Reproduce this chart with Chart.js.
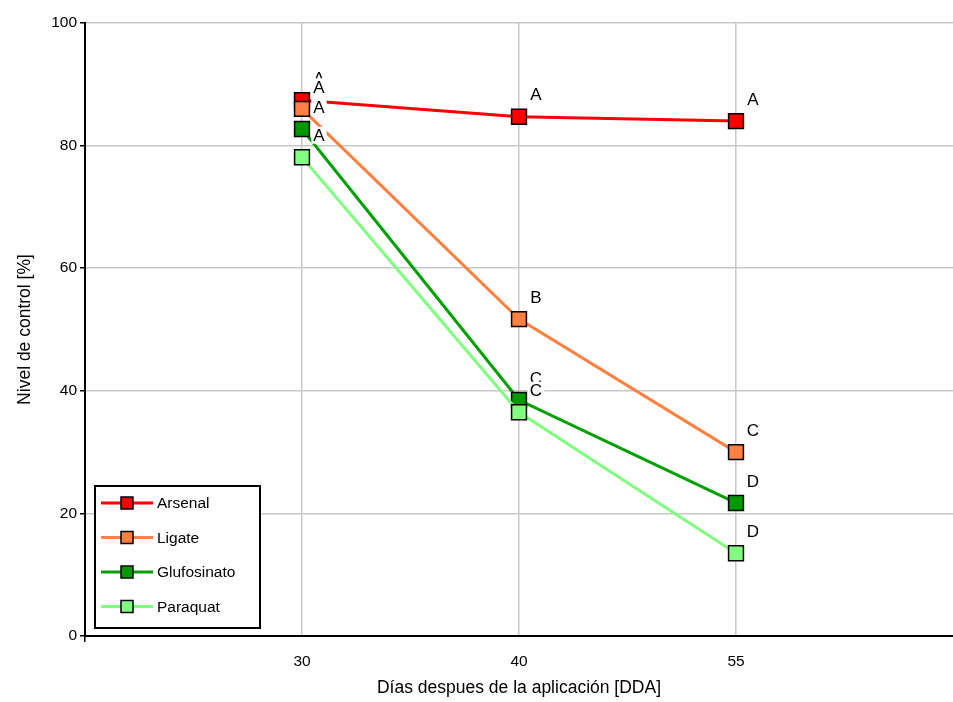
<!DOCTYPE html>
<html>
<head>
<meta charset="utf-8">
<script src="https://cdn.jsdelivr.net/npm/chart.js@4/dist/chart.umd.min.js"></script>
<style>
  body { margin: 0; background: #fff; }
  #wrap { width: 953px; height: 702px; }
</style>
</head>
<body>
<div id="wrap"><canvas id="controlChart" width="953" height="702"></canvas></div>
<script>
// Días después de la aplicación
const dias = ['30', '40', '55'];

// Nivel de control (%) por herbicida
const arsenal = [87.4, 84.7, 84.0];
const ligate = [86.0, 51.7, 30.0];
const glufosinato = [82.7, 38.5, 21.7];
const paraquat = [78.1, 36.5, 13.5];

// Letras de separación de medias
const letrasArsenal = ['A', 'A', 'A'];
const letrasLigate = ['A', 'B', 'C'];
const letrasGlufosinato = ['A', 'C', 'D'];
const letrasParaquat = ['A', 'C', 'D'];

const yTicks = [0, 20, 40, 60, 80, 100];

const FONT = "'Liberation Sans', Arial, sans-serif";

const series = [
    { label: 'Arsenal', data: arsenal, letras: letrasArsenal, line: '#ff0000', fill: '#ff0000' },
    { label: 'Ligate', data: ligate, letras: letrasLigate, line: '#ff8040', fill: '#ff8040' },
    { label: 'Glufosinato', data: glufosinato, letras: letrasGlufosinato, line: '#00a000', fill: '#009900' },
    { label: 'Paraquat', data: paraquat, letras: letrasParaquat, line: '#80ff80', fill: '#80ff80' }
];

// letras encima de cada punto, con fondo blanco
const letrasPlugin = {
    id: 'letras',
    afterDatasetsDraw(chart) {
        const ctx = chart.ctx;
        ctx.save();
        ctx.font = '17px ' + FONT;
        ctx.textAlign = 'center';
        ctx.textBaseline = 'middle';
        chart.data.datasets.forEach((ds, i) => {
            const meta = chart.getDatasetMeta(i);
            meta.data.forEach((pt, j) => {
                const x = pt.x + 17;
                const y = pt.y - 22;
                const txt = ds.letras[j];
                const w = ctx.measureText(txt).width + 4;
                ctx.fillStyle = '#fff';
                ctx.fillRect(x - w / 2, y - 8.5, w, 17);
                ctx.fillStyle = '#000';
                ctx.fillText(txt, x, y + 1);
            });
        });
        ctx.restore();
    }
};

// leyenda dentro del área del gráfico
const leyendaPlugin = {
    id: 'leyenda',
    afterDraw(chart) {
        const ctx = chart.ctx;
        const bx = 95, by = 486, bw = 165, bh = 142;
        ctx.save();
        ctx.fillStyle = '#fff';
        ctx.fillRect(bx, by, bw, bh);
        ctx.strokeStyle = '#000';
        ctx.lineWidth = 2;
        ctx.strokeRect(bx, by, bw, bh);
        ctx.font = '15.5px ' + FONT;
        ctx.textBaseline = 'middle';
        chart.data.datasets.forEach((ds, i) => {
            const y = by + 17 + i * 34.5;
            ctx.strokeStyle = ds.borderColor;
            ctx.lineWidth = 3;
            ctx.beginPath();
            ctx.moveTo(101, y);
            ctx.lineTo(153, y);
            ctx.stroke();
            ctx.fillStyle = ds.pointBackgroundColor;
            ctx.fillRect(121, y - 6, 12, 12);
            ctx.strokeStyle = '#000';
            ctx.lineWidth = 1.5;
            ctx.strokeRect(121, y - 6, 12, 12);
            ctx.fillStyle = '#000';
            ctx.fillText(ds.label, 157, y + 1);
        });
        ctx.restore();
    }
};

new Chart(document.getElementById('controlChart'), {
    type: 'line',
    data: {
        datasets: series.map((s, i) => ({
            label: s.label,
            data: s.data.map((v, j) => ({ x: j + 1, y: v })),
            letras: s.letras,
            borderColor: s.line,
            borderWidth: 3,
            pointStyle: 'rect',
            pointRadius: 10.5,
            pointHoverRadius: 10.5,
            pointBackgroundColor: s.fill,
            pointBorderColor: '#000',
            pointBorderWidth: 1.5,
            tension: 0,
            order: series.length - i
        }))
    },
    options: {
        responsive: false,
        animation: false,
        layout: { autoPadding: false, padding: { top: 23, right: 0, left: 0, bottom: 0 } },
        plugins: {
            legend: { display: false },
            tooltip: { enabled: false }
        },
        scales: {
            x: {
                type: 'linear',
                min: 0,
                max: 4,
                afterBuildTicks: (scale) => {
                    scale.ticks = [0, 1, 2, 3, 4].map(v => ({ value: v }));
                },
                afterFit: (scale) => {
                    scale.height = 66;
                    scale.paddingLeft = 0;
                    scale.paddingRight = 0;
                },
                border: { color: '#000', width: 2 },
                grid: {
                    color: (c) => (c.tick && c.tick.value >= 1 && c.tick.value <= 3) ? '#c8c8c8' : 'rgba(0,0,0,0)',
                    lineWidth: 1.5,
                    tickLength: 6,
                    tickColor: (c) => (c.tick && c.tick.value === 0) ? '#000' : 'rgba(0,0,0,0)'
                },
                ticks: {
                    color: '#000',
                    padding: 10,
                    font: { family: FONT, size: 15.5 },
                    callback: (v) => dias[v - 1] || ''
                },
                title: {
                    display: true,
                    text: 'Días despues de la aplicación [DDA]',
                    color: '#000',
                    font: { family: FONT, size: 17.5 },
                    padding: { top: 4, bottom: 3 }
                }
            },
            y: {
                min: 0,
                max: 100,
                afterBuildTicks: (scale) => {
                    scale.ticks = yTicks.map(v => ({ value: v }));
                },
                afterFit: (scale) => { scale.width = 85; },
                border: { color: '#000', width: 2 },
                grid: {
                    color: '#c8c8c8',
                    lineWidth: 1.5,
                    tickLength: 5,
                    tickColor: '#000'
                },
                ticks: {
                    color: '#000',
                    padding: 3,
                    font: { family: FONT, size: 15.5 }
                },
                title: {
                    display: true,
                    text: 'Nivel de control [%]',
                    color: '#000',
                    font: { family: FONT, size: 17.5 },
                    padding: { top: 15, bottom: 4 }
                }
            }
        }
    },
    plugins: [letrasPlugin, leyendaPlugin]
});
</script>
</body>
</html>
